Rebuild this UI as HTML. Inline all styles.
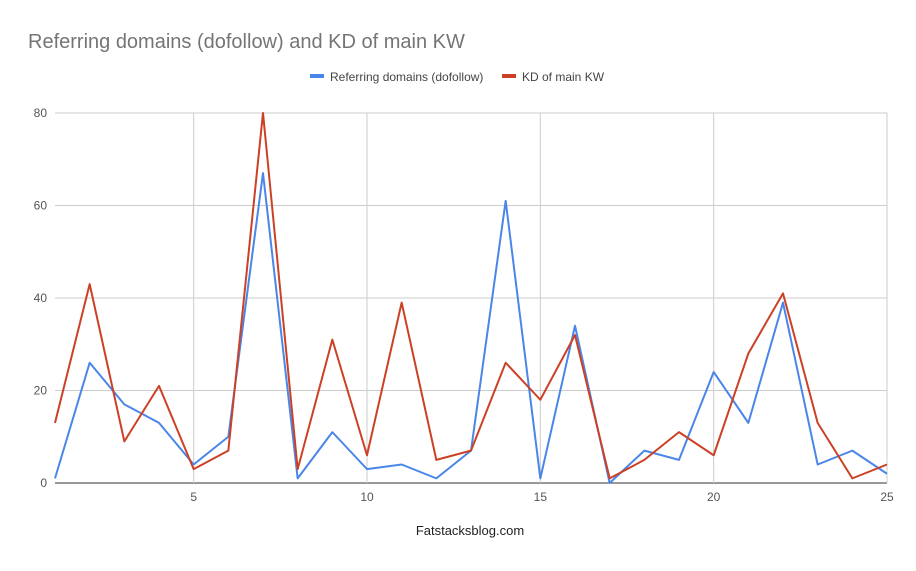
<!DOCTYPE html>
<html><head><meta charset="utf-8"><style>
body{margin:0;background:#fff;}
svg text{font-family:"Liberation Sans",Arial,sans-serif;}
</style></head><body>
<svg id="c" width="916" height="566" xmlns="http://www.w3.org/2000/svg">
<rect width="916" height="566" fill="#fff"/>
<text x="28" y="48" font-size="20" fill="#757575">Referring domains (dofollow) and KD of main KW</text>
<rect x="310" y="74" width="14" height="4" fill="#4a86e8"/>
<text x="330" y="81" font-size="12" fill="#444">Referring domains (dofollow)</text>
<rect x="502" y="74" width="14" height="4" fill="#cc4125"/>
<text x="522" y="81" font-size="12" fill="#444">KD of main KW</text>
<g id="grid"></g>
<text x="470" y="535" font-size="13" fill="#222" text-anchor="middle">Fatstacksblog.com</text>
</svg>
<script>
var g=document.getElementById('grid'),h='';
function X(i){return 55+(i-1)*832/24;}
function Y(v){return 483-v*370/80;}
[0,20,40,60,80].forEach(function(v){
 h+='<line x1="55" x2="887" y1="'+Y(v)+'" y2="'+Y(v)+'" stroke="'+(v==0?'#333':'#ccc')+'" stroke-width="1"/>';
 h+='<text x="47" y="'+(Y(v)+4)+'" font-size="12" fill="#555" text-anchor="end">'+v+'</text>';
});
[5,10,15,20,25].forEach(function(i){
 h+='<line x1="'+X(i)+'" x2="'+X(i)+'" y1="113" y2="483" stroke="#ccc"/>';
 h+='<text x="'+X(i)+'" y="501" font-size="12" fill="#555" text-anchor="middle">'+i+'</text>';
});
var b=[1,26,17,13,4,10,67,1,11,3,4,1,7,61,1,34,0,7,5,24,13,39,4,7,2];
var r=[13,43,9,21,3,7,80,3,31,6,39,5,7,26,18,32,1,5,11,6,28,41,13,1,4];
function P(a,c){return '<polyline fill="none" stroke="'+c+'" stroke-width="2" stroke-linejoin="round" points="'+a.map(function(v,i){return X(i+1)+','+Y(v)}).join(' ')+'"/>';}
h+=P(b,'#4a86e8')+P(r,'#cc4125');
g.innerHTML=h;
</script>
</body></html>
